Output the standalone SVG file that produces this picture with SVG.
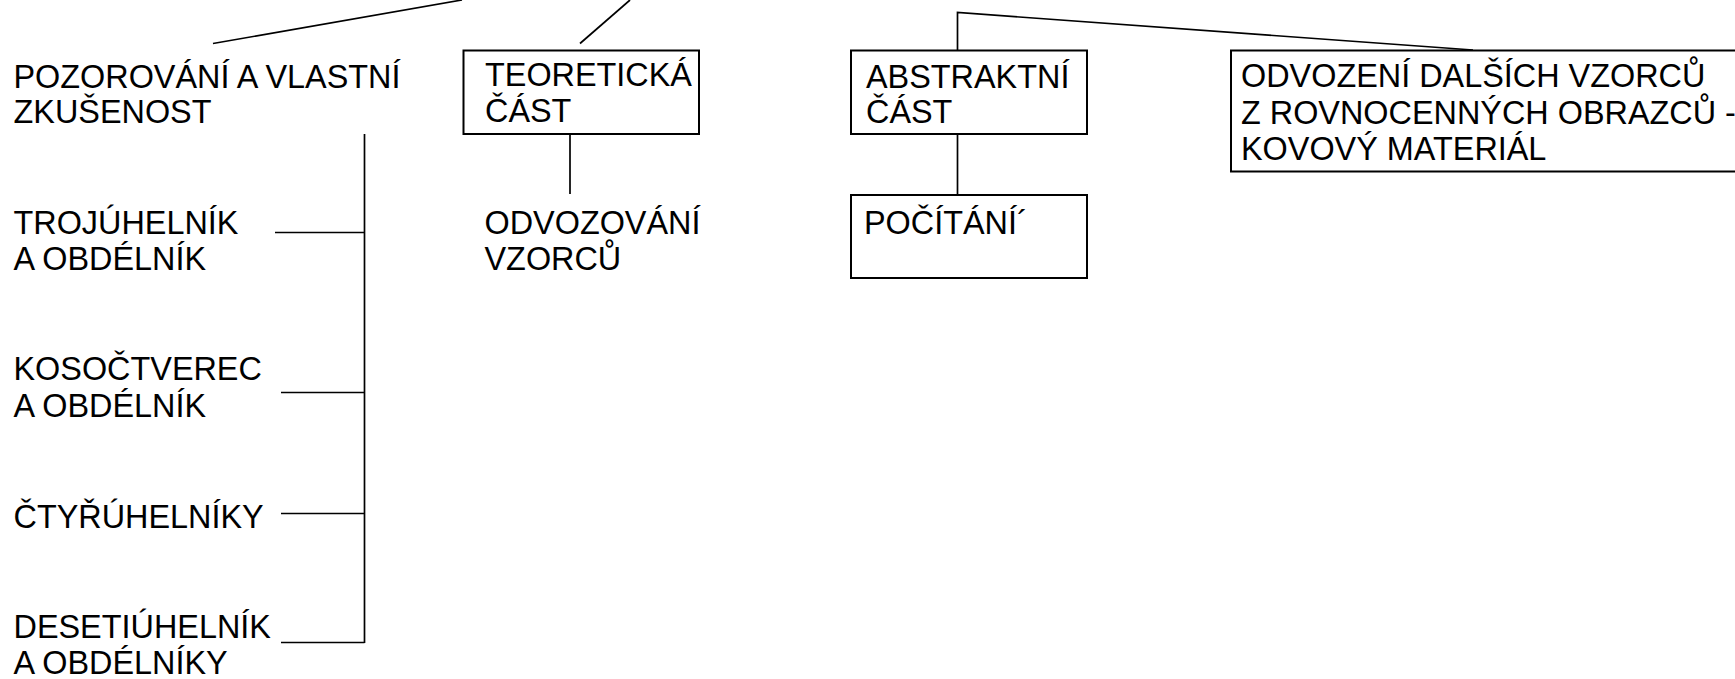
<svg xmlns="http://www.w3.org/2000/svg" width="1735" height="679" viewBox="0 0 1735 679">
<style>
text{font-family:"Liberation Sans",Arial,sans-serif;font-size:32.4px;fill:#000}
.box{fill:#fff;stroke:#000;stroke-width:2}
.ln{fill:none;stroke:#000;stroke-width:1.7}
</style>
<rect width="1735" height="679" fill="#fff"/>
<g id="connectors">
<line class="ln" x1="213" y1="43.5" x2="462" y2="0"/>
<line class="ln" x1="580" y1="43.5" x2="630" y2="0"/>
<line class="ln" x1="364.5" y1="134" x2="364.5" y2="643"/>
<line class="ln" x1="275" y1="232.5" x2="364.5" y2="232.5"/>
<line class="ln" x1="281" y1="392.5" x2="364.5" y2="392.5"/>
<line class="ln" x1="281" y1="513.5" x2="364.5" y2="513.5"/>
<line class="ln" x1="281" y1="642.5" x2="364.5" y2="642.5"/>
<line class="ln" x1="570" y1="134" x2="570" y2="194"/>
<polyline class="ln" points="957.5,50 957.5,12.5 1473,50"/>
<line class="ln" x1="957.5" y1="134" x2="957.5" y2="195"/>
</g>
<g id="n-pozorovani">
<text x="13.5" y="88">POZOROVÁNÍ A VLASTNÍ</text>
<text x="13.5" y="123">ZKUŠENOST</text>
</g>
<g id="n-trojuhelnik">
<text x="13.5" y="233.5">TROJÚHELNÍK</text>
<text x="13.5" y="269.5">A OBDÉLNÍK</text>
</g>
<g id="n-kosoctverec">
<text x="13.5" y="380">KOSOČTVEREC</text>
<text x="13.5" y="417">A OBDÉLNÍK</text>
</g>
<g id="n-ctyruhelniky">
<text x="13.5" y="527.5">ČTYŘÚHELNÍKY</text>
</g>
<g id="n-desetiuhelnik">
<text x="13.5" y="638">DESETIÚHELNÍK</text>
<text x="13.5" y="674">A OBDÉLNÍKY</text>
</g>
<g id="n-teoreticka">
<rect class="box" x="463.5" y="50.5" width="235.5" height="83.5"/>
<text x="485" y="86">TEORETICKÁ</text>
<text x="485" y="121.5">ČÁST</text>
</g>
<g id="n-odvozovani">
<text x="484.5" y="233.5">ODVOZOVÁNÍ</text>
<text x="484.5" y="269.5">VZORCŮ</text>
</g>
<g id="n-abstraktni">
<rect class="box" x="851" y="50.5" width="236" height="83.5"/>
<text x="866" y="87.5">ABSTRAKTNÍ</text>
<text x="866" y="122.5">ČÁST</text>
</g>
<g id="n-pocitani">
<rect class="box" x="851" y="195" width="236" height="83"/>
<text x="864" y="233.5">POČÍTÁNÍ´</text>
</g>
<g id="n-odvozeni">
<rect class="box" x="1231" y="50.5" width="520" height="121"/>
<text x="1241" y="87">ODVOZENÍ DALŠÍCH VZORCŮ</text>
<text x="1241" y="124">Z ROVNOCENNÝCH OBRAZCŮ -</text>
<text x="1241" y="160">KOVOVÝ MATERIÁL</text>
</g>
</svg>
